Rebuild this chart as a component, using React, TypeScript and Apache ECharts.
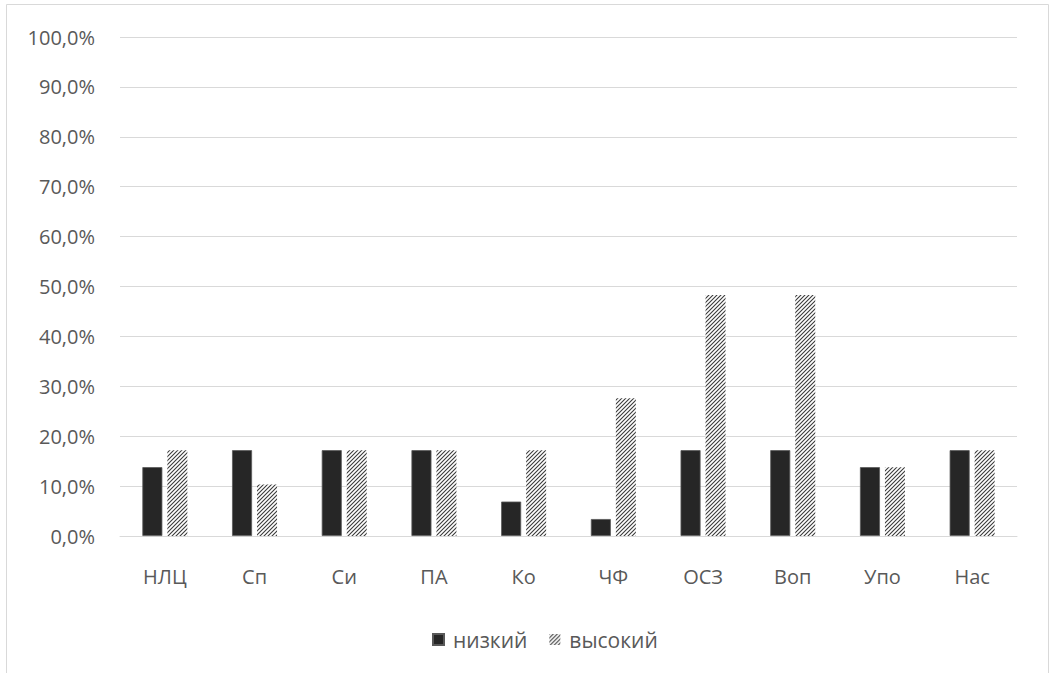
import React, { useEffect, useRef } from "react";
import * as echarts from "echarts";

const categories = ["НЛЦ", "Сп", "Си", "ПА", "Ко", "ЧФ", "ОСЗ", "Воп", "Упо", "Нас"];
const lowValues = [13.8, 17.2, 17.2, 17.2, 6.9, 3.4, 17.2, 17.2, 13.8, 17.2];
const highValues = [17.2, 10.3, 17.2, 17.2, 17.2, 27.6, 48.3, 48.3, 13.8, 17.2];
const seriesNames = ["низкий", "высокий"];

function makeHatch(): string {
  const s = 4;
  const c = document.createElement("canvas");
  c.width = s;
  c.height = s;
  const ctx = c.getContext("2d")!;
  ctx.fillStyle = "#ffffff";
  ctx.fillRect(0, 0, s, s);
  ctx.strokeStyle = "#3a3a3a";
  ctx.lineWidth = 1.1;
  ctx.beginPath();
  ctx.moveTo(-1, s + 1);
  ctx.lineTo(s + 1, -1);
  ctx.moveTo(-1, 1);
  ctx.lineTo(1, -1);
  ctx.moveTo(s - 1, s + 1);
  ctx.lineTo(s + 1, s - 1);
  ctx.stroke();
  return c.toDataURL();
}

export default function App() {
  const ref = useRef<HTMLDivElement>(null);
  useEffect(() => {
    const chart = echarts.init(ref.current!, null, { renderer: "svg" });
    const hatch = { image: makeHatch(), repeat: "repeat" } as any;
    const font = "'Open Sans', 'DejaVu Sans', sans-serif";
    chart.setOption({
      animation: false,
      backgroundColor: "#ffffff",
      textStyle: { fontFamily: font },
      graphic: [
        {
          type: "rect",
          shape: { x: 6.5, y: 4.5, width: 1042, height: 670 },
          style: { fill: "none", stroke: "#d9d9d9", lineWidth: 1 },
          silent: true,
        },
      ],
      grid: { left: 120, right: 35, top: 37, bottom: 137, containLabel: false },
      legend: {
        bottom: 18,
        left: 427,
        itemWidth: 11,
        itemHeight: 11,
        itemGap: 22,
        textStyle: { color: "#595959", fontSize: 21, fontFamily: font, padding: [0, 0, 0, 4] },
        data: [
          { name: seriesNames[0], icon: "rect" },
          { name: seriesNames[1], icon: "rect", itemStyle: { color: hatch, borderWidth: 0 } },
        ],
      },
      xAxis: {
        type: "category",
        data: categories,
        axisLine: { lineStyle: { color: "#d9d9d9", width: 1 } },
        axisTick: { show: false },
        axisLabel: { color: "#595959", fontSize: 20, margin: 30, fontFamily: font },
      },
      yAxis: {
        type: "value",
        min: 0,
        max: 100,
        interval: 10,
        axisLine: { show: false },
        axisTick: { show: false },
        splitLine: { lineStyle: { color: "#d9d9d9", width: 1 } },
        axisLabel: {
          color: "#595959",
          fontSize: 20,
          margin: 25,
          fontFamily: font,
          formatter: (v: number) => v.toFixed(1).replace(".", ",") + "%",
        },
      },
      series: [
        {
          name: seriesNames[0],
          type: "bar",
          data: lowValues,
          barWidth: 20,
          barGap: "25%",
          itemStyle: { color: "#262626", borderColor: "#595959", borderWidth: 0.8 },
        },
        {
          name: seriesNames[1],
          type: "bar",
          data: highValues,
          barWidth: 20,
          barGap: "25%",
          itemStyle: { color: hatch, borderWidth: 0 },
        },
      ],
    });
    return () => chart.dispose();
  }, []);
  return <div ref={ref} style={{ width: 1052, height: 673, position: "absolute", left: 0, top: 0 }} />;
}
